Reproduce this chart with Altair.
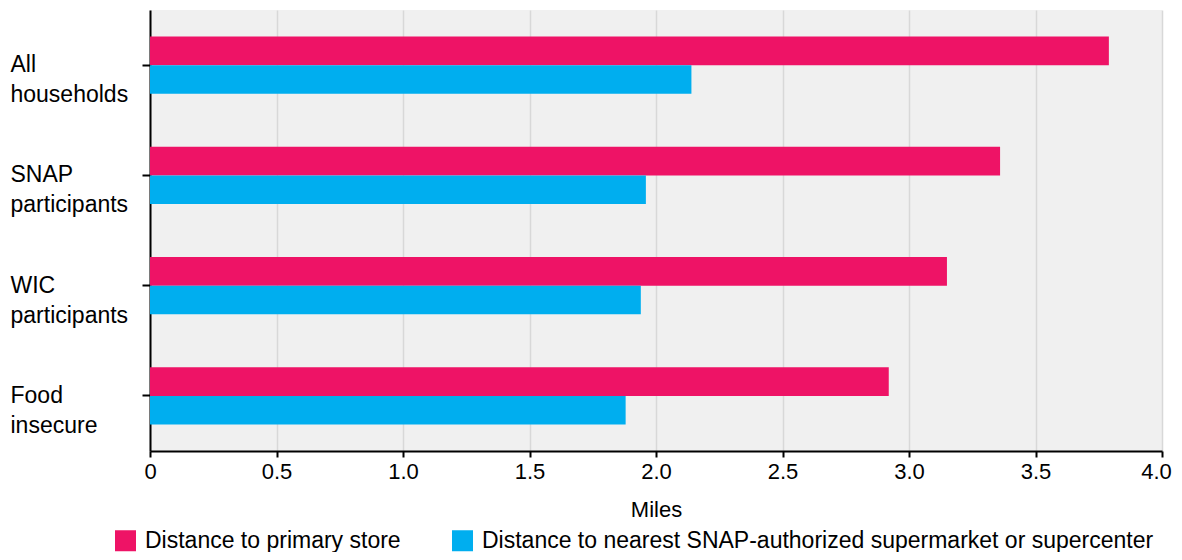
import altair as alt
import pandas as pd

categories = ["All households", "SNAP participants", "WIC participants", "Food insecure"]
series = ["Distance to primary store",
          "Distance to nearest SNAP-authorized supermarket or supercenter"]
primary = [3.79, 3.36, 3.15, 2.92]
nearest = [2.14, 1.96, 1.94, 1.88]
colors = ["#EE1366", "#00AEEF"]

rows = []
for c, p, n in zip(categories, primary, nearest):
    rows.append({"category": c, "series": series[0], "miles": p})
    rows.append({"category": c, "series": series[1], "miles": n})
df = pd.DataFrame(rows)

FONT = "Liberation Sans"
FS = 23

chart = alt.Chart(df).mark_bar().encode(
    x=alt.X("miles:Q",
            scale=alt.Scale(domain=[0, 4]),
            axis=alt.Axis(title="Miles", values=[0, 0.5, 1, 1.5, 2, 2.5, 3, 3.5, 4],
                          labelExpr="datum.value == 0 ? '0' : format(datum.value, '.1f')",
                          labelFlush=False,
                          labelOffset={"expr": "datum.value == 4 ? -6 : 0"},
                          grid=True, gridColor="#d8d8d8", gridWidth=1.5,
                          domainColor="#000000", domainWidth=2,
                          tickColor="#000000", tickWidth=2, tickSize=6,
                          labelFontSize=22, labelFont=FONT, labelColor="#000000",
                          labelPadding=4,
                          titleFontSize=22, titleFont=FONT, titleColor="#000000",
                          titleFontWeight="normal", titlePadding=17)),
    y=alt.Y("category:N", sort=categories,
            scale=alt.Scale(paddingInner=0.48, paddingOuter=0.24),
            axis=alt.Axis(title=None, labelExpr="split(datum.label, ' ')",
                          labelAlign="left", labelPadding=132, labelBaseline="middle",
                          labelLineHeight=30, labelFontSize=FS, labelFont=FONT,
                          labelColor="#000000",
                          domainColor="#000000", domainWidth=2,
                          tickColor="#000000", tickWidth=2, tickSize=8,
                          grid=False)),
    yOffset=alt.YOffset("series:N", sort=series),
    color=alt.Color("series:N", sort=series,
                    scale=alt.Scale(domain=series, range=colors),
                    legend=alt.Legend(title=None, orient="none", direction="horizontal",
                                      legendX=-36, legendY=519,
                                      symbolType="square", symbolSize=441,
                                      symbolStrokeWidth=0, symbolOpacity=1,
                                      labelFontSize=FS, labelFont=FONT,
                                      labelColor="#000000", labelLimit=900,
                                      labelOffset=8, columnPadding=50)),
).properties(
    width=1012, height=441,
    padding={"left": 142, "top": 2, "right": 12, "bottom": 101},
    autosize=alt.AutoSizeParams(type="none"),
).configure_view(
    fill="#f0f0f0", stroke=None
)

chart.save("out.html", embed_options={"renderer": "svg", "actions": False})
